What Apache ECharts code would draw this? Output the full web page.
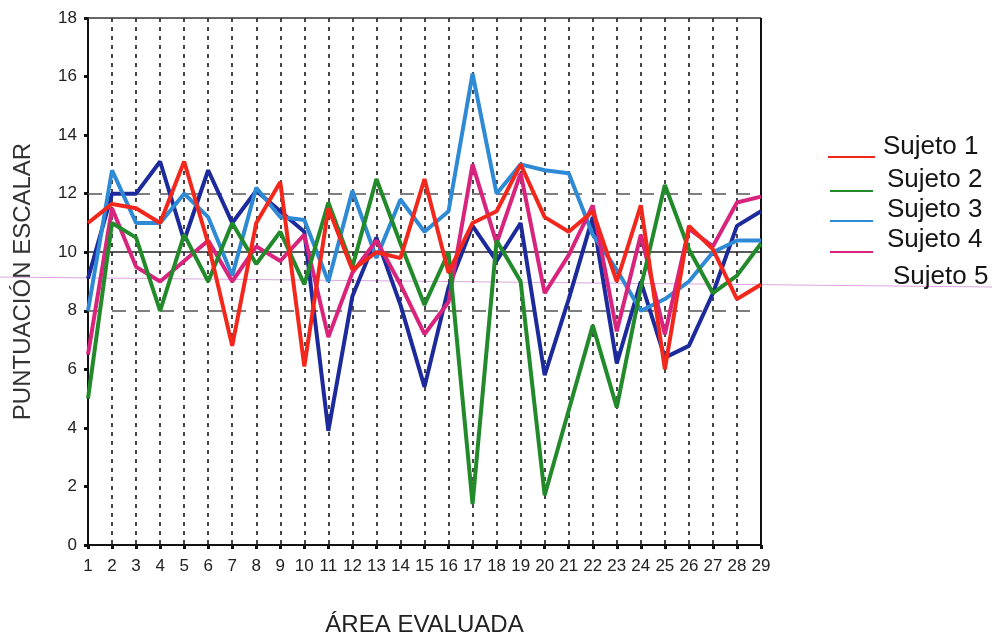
<!DOCTYPE html>
<html>
<head>
<meta charset="utf-8">
<script src="https://cdn.jsdelivr.net/npm/echarts@6/dist/echarts.min.js"></script>
<style>
html,body{margin:0;padding:0;background:#fff;}
#chart{width:992px;height:636px;}
</style>
</head>
<body>
<div id="chart"></div>
<script>
const categories = ['1','2','3','4','5','6','7','8','9','10','11','12','13','14','15','16','17','18','19','20','21','22','23','24','25','26','27','28','29'];
const sujeto1 = [11.0,11.65,11.5,11.0,13.1,10.3,6.8,11.0,12.4,6.1,11.5,9.4,10.0,9.8,12.5,9.3,11.0,11.4,13.0,11.2,10.7,11.4,9.0,11.6,6.0,10.9,10.1,8.4,8.9];
const sujeto2 = [5.0,11.0,10.5,8.0,10.6,9.0,11.0,9.6,10.7,8.9,11.7,9.5,12.5,10.3,8.2,10.0,1.4,10.4,9.0,1.7,4.6,7.5,4.7,8.8,12.3,10.1,8.6,9.2,10.3];
const sujeto3 = [8.0,12.8,11.0,11.0,12.0,11.2,9.2,12.2,11.2,11.1,9.0,12.1,9.8,11.8,10.7,11.4,16.1,12.0,13.0,12.8,12.7,10.6,9.4,8.0,8.4,9.0,10.0,10.4,10.4];
const sujeto4 = [6.5,11.5,9.5,9.0,9.7,10.4,9.0,10.2,9.7,10.6,7.1,9.3,10.4,8.9,7.2,8.3,13.0,10.3,12.7,8.6,9.9,11.6,7.3,10.6,7.2,10.8,10.2,11.7,11.9];
const sujeto5 = [9.1,12.0,12.0,13.1,10.4,12.8,11.0,12.1,11.4,10.7,3.9,8.5,10.5,8.2,5.4,8.8,10.9,9.7,11.0,5.8,8.4,11.2,6.2,9.0,6.4,6.8,8.6,10.9,11.4];
const seriesNames = ['Sujeto 1','Sujeto 2','Sujeto 3','Sujeto 4','Sujeto 5'];
const yTicks = {min:0, max:18, interval:2};
const refLevels = {dashed:[8,12], solid:[10], top:18};

const colors = {
  'Sujeto 1':'#f2281c',
  'Sujeto 2':'#238a2c',
  'Sujeto 3':'#2f8ad6',
  'Sujeto 4':'#d8247c',
  'Sujeto 5':'#1c2a9c'
};
const FONT = "'Liberation Sans', Arial, Helvetica, sans-serif";

function lineSeries(name, data, z){
  return {
    name: name, type:'line', data: data, symbol:'none', z: z,
    lineStyle:{color: colors[name], width:4},
    itemStyle:{color: colors[name]},
    animation:false
  };
}

const markData = [];
refLevels.dashed.forEach(v => markData.push({yAxis:v, lineStyle:{type:[14,10], color:'#555', width:1.5}}));
refLevels.solid.forEach(v => markData.push({yAxis:v, lineStyle:{type:'solid', color:'#222', width:1.5}}));
markData.push({yAxis:refLevels.top, lineStyle:{type:'solid', color:'#333', width:1.5}});
markData.push({xAxis:categories[categories.length-1], lineStyle:{type:'solid', color:'#111', width:2}});

const s5 = lineSeries('Sujeto 5', sujeto5, 2);
s5.markLine = {silent:true, symbol:['none','none'], label:{show:false}, z:1, animation:false, data: markData};

// legend drawn as graphic (line sits at the text baseline, as in the original)
const legendLayout = [
  {textX:883, textY:147, line:[828,875,157], showLine:true},
  {textX:887, textY:180, line:[830,873,191], showLine:true},
  {textX:887, textY:210, line:[830,873,221], showLine:true},
  {textX:887, textY:240, line:[830,873,252], showLine:true},
  {textX:893, textY:277, line:[0,0,0], showLine:false}
];
const legendGraphics = [];
seriesNames.forEach((name, i) => {
  const L = legendLayout[i];
  if (L.showLine) {
    legendGraphics.push({type:'line', silent:true, shape:{x1:L.line[0], y1:L.line[2], x2:L.line[1], y2:L.line[2]},
      style:{stroke:colors[name], lineWidth:2}});
  }
  legendGraphics.push({type:'text', silent:true, x:L.textX, y:L.textY,
    style:{text:name, font:"26px 'Liberation Sans', Arial, sans-serif", fill:'#151515', verticalAlign:'middle', align:'left'}});
});

const chart = echarts.init(document.getElementById('chart'));
chart.setOption({
  backgroundColor:'#ffffff',
  animation:false,
  textStyle:{fontFamily:FONT},
  grid:{left:88, right:231, top:18, bottom:91, containLabel:false, outerBoundsMode:'none'},
  xAxis:{
    type:'category', data:categories, boundaryGap:false,
    name:'ÁREA EVALUADA', nameLocation:'middle', nameGap:68,
    nameTextStyle:{fontSize:24, color:'#222', fontFamily:FONT},
    axisLine:{lineStyle:{color:'#111', width:2}},
    axisTick:{show:true, length:4, lineStyle:{color:'#111', width:3}},
    axisLabel:{fontSize:17, color:'#222', margin:13, interval:0, fontFamily:FONT},
    splitLine:{show:true, lineStyle:{type:[4,5], color:'#1a1a1a', width:1.6}}
  },
  yAxis:{
    type:'value', min:yTicks.min, max:yTicks.max, interval:yTicks.interval,
    name:'PUNTUACIÓN ESCALAR', nameLocation:'middle', nameGap:53,
    nameTextStyle:{fontSize:24, color:'#333', fontFamily:FONT},
    axisLine:{show:true, lineStyle:{color:'#111', width:2}},
    axisTick:{show:true, length:4, lineStyle:{color:'#111', width:3}},
    axisLabel:{fontSize:17, color:'#222', margin:11, fontFamily:FONT},
    splitLine:{show:false}
  },
  graphic:[
    {type:'line', silent:true, z:-10, shape:{x1:0, y1:277, x2:992, y2:287}, style:{stroke:'#d9a6de', lineWidth:1}}
  ].concat(legendGraphics),
  series:[
    s5,
    lineSeries('Sujeto 3', sujeto3, 3),
    lineSeries('Sujeto 4', sujeto4, 4),
    lineSeries('Sujeto 2', sujeto2, 5),
    lineSeries('Sujeto 1', sujeto1, 6)
  ]
});
</script>
</body>
</html>
